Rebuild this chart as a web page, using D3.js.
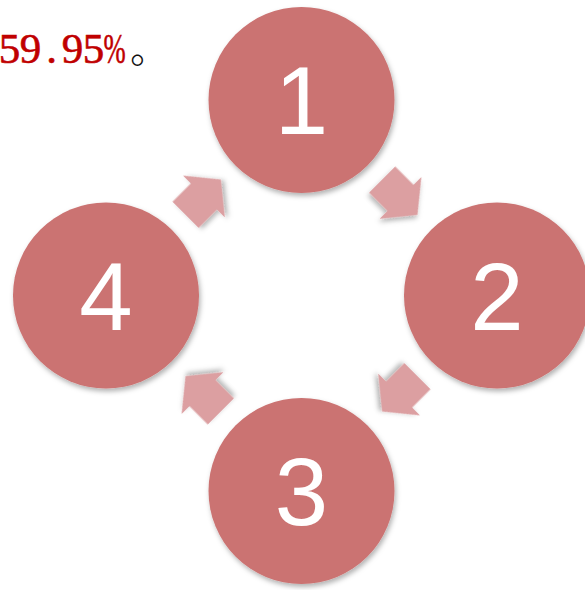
<!DOCTYPE html>
<meta charset="utf-8">
<html>
<script src="https://d3js.org/d3.v7.min.js"></script>
<style>
  body { margin: 0; background: #fff; }
</style>
<body>
<div id="myKeeper"></div>
<script>

    // cycle steps, clockwise from the top
    const labels = ["1", "2", "3", "4"];
    const stepAngles = [-90, 0, 90, 180];      // degrees, position of each step
    const arrowAngles = [-45, 45, 135, -135];  // degrees, arrow between step i and i+1
    const headline = ["5", "9", ".", "9", "5", "%"];
    const tailMark = "。";

    const width = 585,
        height = 590,
        cx = 301.5,
        cy = 295.5;

    const svg = d3.select("#myKeeper")
      .append("svg")
        .attr("width", width)
        .attr("height", height);

    const defs = svg.append("defs");
    defs.append("filter")
        .attr("id", "shadow")
        .attr("x", "-20%").attr("y", "-20%")
        .attr("width", "140%").attr("height", "140%")
      .append("feDropShadow")
        .attr("dx", 1.5).attr("dy", 3)
        .attr("stdDeviation", 2.5)
        .attr("flood-color", "#000")
        .attr("flood-opacity", 0.3);

    // polar scales: angle in degrees -> radians, fixed radius per ring
    const ang = d3.scaleLinear().domain([0, 360]).range([0, 2 * Math.PI]);
    const ringNode = 195.5, ringArrow = 139;
    const px = (a, r) => cx + r * Math.cos(ang(a));
    const py = (a, r) => cy + r * Math.sin(ang(a));

    // arrows
    const L = 50, headLen = 24, headW = 59, bodyW = 37;
    const arrowShape = d3.line()([
      [-L / 2, -bodyW / 2], [L / 2 - headLen, -bodyW / 2], [L / 2 - headLen, -headW / 2],
      [L / 2, 0],
      [L / 2 - headLen, headW / 2], [L / 2 - headLen, bodyW / 2], [-L / 2, bodyW / 2]
    ]) + "Z";

    svg.selectAll("path.arrow")
      .data(arrowAngles)
      .join("path")
        .attr("class", "arrow")
        .attr("d", arrowShape)
        .attr("fill", "#dc9fa1")
        .attr("filter", "url(#shadow)")
        .attr("transform", a => `translate(${px(a, ringArrow)},${py(a, ringArrow)}) rotate(${a + 90})`);

    // circles
    const nodes = svg.selectAll("g.node")
      .data(labels)
      .join("g")
        .attr("class", "node")
        .attr("transform", (d, i) => `translate(${px(stepAngles[i], ringNode)},${py(stepAngles[i], ringNode)})`);

    nodes.append("circle")
        .attr("r", 93)
        .attr("fill", "#cb7372")
        .attr("filter", "url(#shadow)");

    nodes.append("text")
        .attr("text-anchor", "middle")
        .attr("y", 34)
        .attr("fill", "#fff")
        .style("font-family", "'Liberation Sans', Arial, sans-serif")
        .style("font-size", "96px")
        .text(d => d);

    // top-left caption, half-width cells like SimSun
    const cell = 21, capY = 63;
    svg.selectAll("text.cap")
      .data(headline)
      .join("text")
        .attr("class", "cap")
        .attr("text-anchor", "middle")
        .attr("fill", "#c00000")
        .attr("stroke", "#c00000")
        .attr("stroke-width", 0.6)
        .attr("transform", (d, i) => `translate(${-1 + cell * i + cell / 2},${capY}) scale(${d === "%" ? 0.62 : 1},1)`)
        .style("font-family", "'Liberation Serif', 'Times New Roman', serif")
        .style("font-size", "43px")
        .text(d => d);

    svg.append("text")
        .attr("x", -1 + cell * headline.length + 5)
        .attr("y", capY)
        .attr("fill", "#111")
        .style("font-family", "'Noto Sans CJK SC', sans-serif")
        .style("font-weight", 300)
        .style("font-size", "38px")
        .text(tailMark);

</script>
</body>
</html>
